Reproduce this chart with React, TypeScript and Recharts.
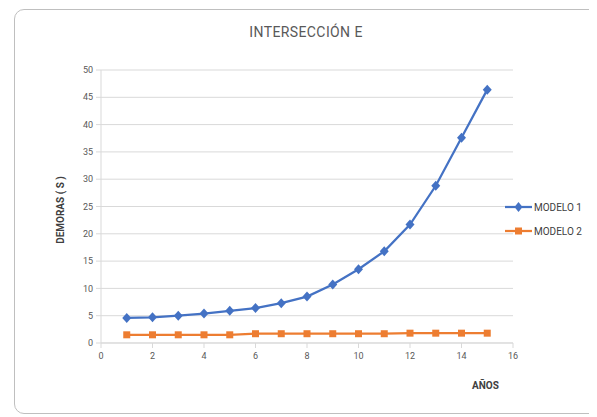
import React from 'react';
import { LineChart, Line, XAxis, YAxis, CartesianGrid } from 'recharts';

const years = [1, 2, 3, 4, 5, 6, 7, 8, 9, 10, 11, 12, 13, 14, 15];
const modelo1 = [4.6, 4.7, 5.0, 5.4, 5.9, 6.4, 7.3, 8.5, 10.7, 13.5, 16.8, 21.7, 28.8, 37.6, 46.4];
const modelo2 = [1.5, 1.5, 1.5, 1.5, 1.5, 1.7, 1.7, 1.7, 1.7, 1.7, 1.7, 1.8, 1.8, 1.8, 1.8];
const xTicks = [0, 2, 4, 6, 8, 10, 12, 14, 16];
const yTicks = [0, 5, 10, 15, 20, 25, 30, 35, 40, 45, 50];

const data = years.map((year, i) => ({ year, m1: modelo1[i], m2: modelo2[i] }));

const BLUE = '#4472C4';
const ORANGE = '#ED7D31';
const FONT = 'Roboto, "Liberation Sans", sans-serif';

const Diamond = ({ cx, cy }: any) => (
  <path d={`M${cx},${cy - 5} L${cx + 4.5},${cy} L${cx},${cy + 5} L${cx - 4.5},${cy} Z`} fill={BLUE} />
);

const Square = ({ cx, cy }: any) => (
  <rect x={cx - 3.5} y={cy - 3.5} width={7} height={7} fill={ORANGE} />
);

const LegendBox = () => (
  <div style={{ fontFamily: FONT, fontSize: 10, color: '#404040' }}>
    {[
      { label: 'MODELO 1', color: BLUE, shape: 'diamond' },
      { label: 'MODELO 2', color: ORANGE, shape: 'square' },
    ].map(({ label, color, shape }) => (
      <div key={label} style={{ display: 'flex', alignItems: 'center', height: 24 }}>
        <svg width={27} height={12}>
          <line x1={0} y1={6} x2={27} y2={6} stroke={color} strokeWidth={2.25} />
          {shape === 'diamond' ? (
            <path d="M13.5,1 L17.5,6 L13.5,11 L9.5,6 Z" fill={color} />
          ) : (
            <rect x={10} y={2.5} width={7} height={7} fill={color} />
          )}
        </svg>
        <span style={{ marginLeft: 2 }}>{label}</span>
      </div>
    ))}
  </div>
);

export default function App() {
  return (
    <div style={{ position: 'relative', width: 597, height: 417, marginTop: -8, marginLeft: -8, overflow: 'hidden', background: '#fff' }}>
      <div
        style={{
          position: 'absolute', left: 14, top: 9, width: 600, height: 405,
          border: '1px solid #bfbfbf', borderRadius: 10, boxSizing: 'border-box',
        }}
      />
      <div
        style={{
          position: 'absolute', left: 0, top: 24, width: 612, textAlign: 'center',
          fontFamily: FONT, fontSize: 14, letterSpacing: 0.4, color: '#595959',
        }}
      >
        INTERSECCIÓN E
      </div>
      <div
        style={{
          position: 'absolute', left: 60, top: 210, transform: 'translate(-50%, -50%) rotate(-90deg)',
          fontFamily: FONT, fontSize: 10, fontWeight: 700, color: '#404040', whiteSpace: 'nowrap',
        }}
      >
        DEMORAS ( S )
      </div>
      <div
        style={{
          position: 'absolute', left: 472, top: 380,
          fontFamily: FONT, fontSize: 10, fontWeight: 700, color: '#404040',
        }}
      >
        AÑOS
      </div>
      <div style={{ position: 'absolute', left: 0, top: 0 }}>
        <LineChart width={597} height={417} data={data} margin={{ top: 70, right: 84, bottom: 44, left: 71 }}>
          <CartesianGrid horizontal vertical={false} stroke="#d9d9d9" strokeWidth={1} />
          <XAxis
            dataKey="year"
            type="number"
            domain={[0, 16]}
            ticks={xTicks}
            interval={0}
            height={30}
            stroke="#d9d9d9"
            tickSize={5}
            tick={{ fill: '#595959', fontSize: 9, fontFamily: FONT }}
            tickMargin={5}
          />
          <YAxis
            type="number"
            domain={[0, 50]}
            ticks={yTicks}
            interval={0}
            width={30}
            stroke="#d9d9d9"
            tickSize={5}
            tick={{ fill: '#595959', fontSize: 9, fontFamily: FONT }}
            tickMargin={3}
          />
          <Line
            dataKey="m1"
            name="MODELO 1"
            stroke={BLUE}
            strokeWidth={2.25}
            dot={<Diamond />}
            activeDot={false}
            isAnimationActive={false}
          />
          <Line
            dataKey="m2"
            name="MODELO 2"
            stroke={ORANGE}
            strokeWidth={2.25}
            dot={<Square />}
            activeDot={false}
            isAnimationActive={false}
          />
        </LineChart>
      </div>
      <div style={{ position: 'absolute', left: 505, top: 195 }}>
        <LegendBox />
      </div>
    </div>
  );
}
